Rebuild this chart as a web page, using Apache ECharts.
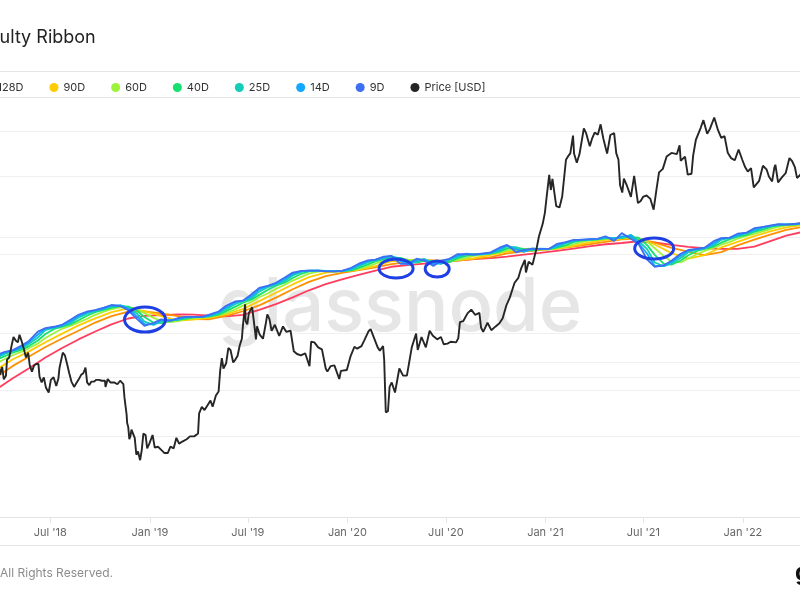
<!DOCTYPE html>
<html><head><meta charset="utf-8">
<script src="https://cdn.jsdelivr.net/npm/echarts@6/dist/echarts.min.js"></script>
<style>html,body{margin:0;padding:0;background:#fff;}#c{width:800px;height:600px;}</style>
</head><body><div id="c"></div>
<script>
// ---------- DATA ----------
const xTickDates = ['2018-07-01','2019-01-01','2019-07-01','2020-01-01','2020-07-01','2021-01-01','2021-07-01','2022-01-01'];
const priceGridLevels = [4000, 6000, 10000, 20000, 40000, 60000];
const difficultyGridLevels = [2.26, 2.89, 22.6];

const pricePoints = [
['2018-03-26',8150],['2018-03-30',6900],['2018-04-03',7400],['2018-04-06',6630],['2018-04-10',6850],['2018-04-12',7900],['2018-04-16',8050],['2018-04-20',8860],['2018-04-24',9650],['2018-04-28',9350],
['2018-05-02',9200],['2018-05-05',9850],['2018-05-09',9300],['2018-05-13',8700],['2018-05-17',8050],['2018-05-21',8400],['2018-05-24',7500],['2018-05-28',7100],['2018-06-01',7500],['2018-06-05',7600],
['2018-06-09',7600],['2018-06-11',6800],['2018-06-15',6450],['2018-06-19',6750],['2018-06-23',6150],['2018-06-28',5900],['2018-07-02',6600],['2018-07-07',6760],['2018-07-12',6250],['2018-07-16',6700],
['2018-07-18',7350],['2018-07-24',8400],['2018-07-28',8200],['2018-08-01',7600],['2018-08-05',7000],['2018-08-09',6500],['2018-08-14',6200],['2018-08-18',6400],['2018-08-22',6600],['2018-08-27',6900],
['2018-08-31',7000],['2018-09-04',7350],['2018-09-07',6450],['2018-09-11',6300],['2018-09-15',6500],['2018-09-20',6500],['2018-09-24',6600],['2018-09-29',6600],['2018-10-04',6550],['2018-10-10',6550],
['2018-10-11',6200],['2018-10-15',6650],['2018-10-20',6450],['2018-10-27',6450],['2018-11-02',6350],['2018-11-07',6550],['2018-11-13',6350],['2018-11-15',5650],['2018-11-19',4850],['2018-11-20',4500],
['2018-11-22',4350],['2018-11-24',3900],['2018-11-26',4000],['2018-11-28',4250],['2018-12-01',4200],['2018-12-04',3950],['2018-12-07',3400],['2018-12-10',3500],['2018-12-14',3240],['2018-12-17',3550],
['2018-12-20',4100],['2018-12-24',4050],['2018-12-27',3600],['2018-12-31',3750],['2019-01-06',4050],['2019-01-10',3620],['2019-01-16',3650],['2019-01-22',3550],['2019-01-28',3450],['2019-02-03',3450],
['2019-02-08',3650],['2019-02-14',3600],['2019-02-19',3950],['2019-02-24',3750],['2019-03-02',3820],['2019-03-10',3900],['2019-03-16',4000],['2019-03-24',4000],['2019-03-31',4100],['2019-04-02',4900],
['2019-04-07',5200],['2019-04-12',5050],['2019-04-17',5250],['2019-04-23',5500],['2019-04-27',5200],['2019-05-03',5750],['2019-05-08',5950],['2019-05-11',7200],['2019-05-14',8000],['2019-05-17',7300],
['2019-05-22',7650],['2019-05-26',8750],['2019-05-30',8600],['2019-06-04',7700],['2019-06-08',7900],['2019-06-12',8150],['2019-06-16',8950],['2019-06-20',9500],['2019-06-22',10700],['2019-06-26',12900],
['2019-06-27',11100],['2019-06-30',10800],['2019-07-03',11950],['2019-07-09',12550],['2019-07-14',10300],['2019-07-16',9450],['2019-07-18',10600],['2019-07-23',9850],['2019-07-29',9500],['2019-08-03',10800],
['2019-08-06',11800],['2019-08-10',11300],['2019-08-14',10200],['2019-08-20',10750],['2019-08-28',9750],['2019-09-04',10600],['2019-09-10',10100],['2019-09-18',10200],['2019-09-24',8500],['2019-09-30',8300],
['2019-10-07',8200],['2019-10-15',8350],['2019-10-23',7450],['2019-10-26',9250],['2019-11-01',9200],['2019-11-08',8800],['2019-11-15',8650],['2019-11-22',7300],['2019-11-25',7100],['2019-12-01',7450],
['2019-12-08',7500],['2019-12-17',6650],['2019-12-20',7150],['2019-12-31',7200],['2020-01-07',8150],['2020-01-14',8850],['2020-01-19',8700],['2020-01-27',8900],['2020-02-01',9350],['2020-02-09',10150],
['2020-02-13',10350],['2020-02-19',9600],['2020-02-26',8800],['2020-03-01',8550],['2020-03-07',8900],['2020-03-09',7900],['2020-03-12',4950],['2020-03-16',5000],['2020-03-19',6200],['2020-03-23',6450],
['2020-03-29',5900],['2020-04-06',7300],['2020-04-13',6850],['2020-04-20',6850],['2020-04-29',8800],['2020-05-07',9950],['2020-05-10',8600],['2020-05-17',9650],['2020-05-25',8800],['2020-06-01',10200],
['2020-06-07',9750],['2020-06-15',9450],['2020-06-22',9650],['2020-06-27',9050],['2020-07-04',9100],['2020-07-10',9250],['2020-07-20',9200],['2020-07-24',9550],['2020-07-27',11000],['2020-08-02',11100],
['2020-08-10',11900],['2020-08-17',12300],['2020-08-24',11750],['2020-09-01',11950],['2020-09-04',10500],['2020-09-08',10100],['2020-09-16',10950],['2020-09-23',10250],['2020-10-01',10600],['2020-10-08',10900],
['2020-10-14',11400],['2020-10-21',12800],['2020-10-27',13650],['2020-11-05',15600],['2020-11-12',16300],['2020-11-17',17700],['2020-11-24',19100],['2020-11-26',17100],['2020-12-01',18800],['2020-12-08',18300],
['2020-12-16',21300],['2020-12-20',23500],['2020-12-27',26300],['2020-12-31',29000],['2021-01-03',33000],['2021-01-08',40600],['2021-01-11',35500],['2021-01-14',39200],['2021-01-21',30800],['2021-01-27',30400],
['2021-02-01',33500],['2021-02-08',46400],['2021-02-12',47900],['2021-02-16',49100],['2021-02-21',57500],['2021-02-23',48900],['2021-02-28',45200],['2021-03-05',48800],['2021-03-13',61200],['2021-03-17',58900],
['2021-03-24',52300],['2021-03-28',55800],['2021-04-02',59000],['2021-04-08',58000],['2021-04-13',63500],['2021-04-18',56000],['2021-04-25',49000],['2021-05-01',57800],['2021-05-08',58800],['2021-05-12',49100],
['2021-05-16',46400],['2021-05-19',37000],['2021-05-23',34700],['2021-05-26',39300],['2021-06-01',36700],['2021-06-08',33400],['2021-06-14',40200],['2021-06-21',31600],['2021-06-26',32200],['2021-07-01',33500],
['2021-07-07',33800],['2021-07-14',32800],['2021-07-20',29800],['2021-07-25',35400],['2021-07-30',41500],['2021-08-06',42800],['2021-08-13',47800],['2021-08-22',49300],['2021-09-01',48800],['2021-09-06',52700],
['2021-09-08',46000],['2021-09-16',47700],['2021-09-21',40700],['2021-09-28',41000],['2021-10-01',48100],['2021-10-06',55300],['2021-10-15',61600],['2021-10-20',65900],['2021-10-27',58400],['2021-11-01',61000],
['2021-11-09',67500],['2021-11-16',60300],['2021-11-22',56300],['2021-11-28',57200],['2021-12-04',49400],['2021-12-10',47100],['2021-12-17',46200],['2021-12-24',50800],['2021-12-31',46300],['2022-01-05',43500],
['2022-01-10',41800],['2022-01-16',43100],['2022-01-21',36300],['2022-01-24',36600],['2022-01-31',38500],['2022-02-07',44000],['2022-02-10',43600],['2022-02-14',42500],['2022-02-18',40000],['2022-02-24',38300],
['2022-02-28',43200],['2022-03-02',44400],['2022-03-07',38000],['2022-03-14',39700],['2022-03-21',41200],['2022-03-28',47100],['2022-04-02',45800],['2022-04-07',43500],['2022-04-11',39500],['2022-04-16',40400],
['2022-04-20',41500]
];

// Ribbon (difficulty moving averages, in T). Fast lines sampled on the 8th/22nd, slow lines on the 22nd.
const d9 = [3.23,3.42,3.50,3.77,4.07,4.76,5.05,5.16,5.32,5.82,6.29,6.65,6.78,7.07,7.38,7.24,6.77,5.87,5.23,5.51,5.82,5.68,5.96,6.07,6.07,6.07,6.32,6.63,7.29,7.83,7.93,8.81,9.78,10.14,10.64,11.64,12.57,12.95,12.98,12.99,12.81,12.85,12.95,13.62,14.56,15.38,15.55,16.33,16.55,14.50,14.54,15.79,15.35,14.04,15.32,15.78,17.00,17.05,16.87,17.24,17.53,18.93,19.84,17.55,18.27,18.62,18.60,18.60,20.16,20.77,21.52,21.51,21.77,21.86,22.86,21.17,24.06,21.94,20.18,15.60,13.82,14.21,15.29,17.16,18.23,18.60,18.92,21.07,22.19,22.33,23.84,24.27,26.11,26.68,27.36,27.88,27.64,28.08,28.51];
const d14 = [3.15,3.38,3.49,3.68,3.99,4.54,5.01,5.13,5.27,5.66,6.17,6.56,6.77,6.98,7.30,7.32,6.92,6.15,5.38,5.37,5.75,5.75,5.84,6.07,6.07,6.07,6.23,6.55,7.08,7.70,7.93,8.50,9.53,10.09,10.48,11.33,12.33,12.89,12.99,12.99,12.88,12.82,12.92,13.39,14.29,15.17,15.55,16.05,16.55,15.23,14.32,15.41,15.62,14.44,14.76,15.78,16.57,17.16,16.91,17.10,17.47,18.45,19.65,18.42,17.76,18.64,18.60,18.60,19.61,20.72,21.27,21.59,21.66,21.86,22.50,21.88,22.83,23.05,20.49,17.15,14.02,14.02,14.96,16.59,18.02,18.53,18.83,20.33,22.00,22.34,23.30,24.27,25.46,26.67,27.12,27.76,27.76,27.89,28.41];
const d25 = [3.07,3.30,3.45,3.60,3.88,4.33,4.88,5.09,5.22,5.50,6.00,6.43,6.71,6.89,7.19,7.34,7.06,6.43,5.62,5.32,5.63,5.78,5.78,6.01,6.07,6.07,6.16,6.44,6.88,7.50,7.87,8.25,9.19,9.93,10.32,11.01,12.00,12.73,12.97,12.98,12.93,12.82,12.89,13.19,13.97,14.88,15.46,15.83,16.43,15.81,14.45,15.01,15.67,14.86,14.47,15.53,16.22,17.05,16.98,17.00,17.35,18.04,19.29,19.03,17.74,18.43,18.61,18.60,19.16,20.43,21.05,21.54,21.60,21.81,22.22,22.28,22.16,23.40,21.22,18.51,14.84,13.95,14.61,15.99,17.59,18.38,18.72,19.70,21.53,22.26,22.88,24.04,24.93,26.37,26.93,27.57,27.80,27.79,28.25];
const d40 = [2.98,3.18,3.37,3.53,3.74,4.12,4.58,4.98,5.16,5.38,5.75,6.21,6.56,6.80,7.04,7.24,7.19,6.74,6.05,5.52,5.48,5.68,5.80,5.88,6.03,6.07,6.13,6.30,6.67,7.18,7.66,8.09,8.72,9.52,10.13,10.69,11.50,12.33,12.83,12.98,12.95,12.89,12.86,13.06,13.59,14.41,15.13,15.67,16.10,16.01,15.24,14.80,15.25,15.22,14.80,14.97,15.90,16.58,17.00,17.02,17.17,17.74,18.63,19.01,18.53,18.07,18.50,18.61,18.95,19.74,20.73,21.25,21.58,21.70,22.06,22.12,22.43,22.54,22.32,19.76,16.83,14.52,14.31,15.33,16.74,17.94,18.55,19.29,20.56,21.83,22.62,23.40,24.54,25.58,26.64,27.23,27.64,27.83,28.02];
const d60 = [2.80,3.04,3.23,3.41,3.62,3.91,4.29,4.66,4.98,5.26,5.55,5.90,6.28,6.61,6.89,7.09,7.13,6.93,6.46,5.97,5.67,5.56,5.67,5.85,5.93,6.01,6.11,6.22,6.47,6.87,7.30,7.78,8.39,8.99,9.62,10.33,11.03,11.73,12.37,12.79,12.94,12.92,12.90,12.99,13.34,13.92,14.58,15.24,15.81,15.86,15.54,15.38,15.16,14.95,15.05,15.15,15.37,16.04,16.59,16.92,17.16,17.46,18.14,18.50,18.56,18.62,18.37,18.39,18.84,19.36,20.02,20.77,21.30,21.58,21.89,21.98,22.24,22.57,22.09,20.93,18.77,16.47,15.07,14.87,15.86,16.99,17.96,18.89,19.89,20.84,21.95,22.95,23.80,24.89,25.85,26.72,27.32,27.62,27.95];
const d90 = [2.53,3.01,3.43,4.00,4.59,5.28,5.92,6.56,6.97,6.68,6.15,5.71,5.80,6.00,6.34,6.91,7.86,9.02,10.35,11.67,12.55,12.91,13.20,14.01,15.15,15.48,15.53,14.97,15.41,15.92,16.82,17.77,18.13,18.58,18.60,19.55,20.55,21.58,22.03,22.11,19.95,17.33,15.80,16.79,19.01,20.85,22.91,24.83,26.49,27.59];
const d128 = [2.24,2.70,3.15,3.70,4.24,4.83,5.53,6.15,6.62,6.65,6.42,6.15,5.86,5.84,6.18,6.66,7.34,8.33,9.56,10.80,11.85,12.51,13.10,13.69,14.46,14.93,15.43,15.31,15.34,15.74,16.20,17.25,17.81,18.17,18.63,19.24,19.97,20.81,21.68,21.96,20.59,18.85,17.76,16.74,17.61,19.67,21.63,23.59,25.35,26.72];
const d200 = [1.83,2.20,2.60,3.11,3.62,4.19,4.77,5.37,5.91,6.17,6.25,6.32,6.29,6.20,6.12,6.27,6.81,7.49,8.37,9.40,10.40,11.26,12.13,12.99,13.84,14.21,14.58,14.84,15.31,15.71,15.96,16.35,16.90,17.37,18.00,18.65,19.35,20.04,20.46,21.06,20.62,19.83,19.22,18.77,18.57,18.56,19.28,21.21,23.09,24.60];

// Annotated spots (date, difficulty level)
const annotations = [['2018-12-23',5.81],['2020-03-31',13.45],['2020-06-15',13.34],['2021-07-21',18.7]];

// ---------- BUILD ----------
const toTs = s => { const p = s.split('-').map(Number); return Date.UTC(p[0], p[1]-1, p[2]); };
const pad = n => String(n).padStart(2,'0');
const fastDates = ['2018-03-22'];
const slowDates = ['2018-03-22'];
for (let y = 2018; y <= 2022; y++) {
  for (let m = 1; m <= 12; m++) {
    if (y === 2018 && m < 4) continue;
    if (y === 2022 && m > 4) break;
    fastDates.push(`${y}-${pad(m)}-08`, `${y}-${pad(m)}-22`);
    slowDates.push(`${y}-${pad(m)}-22`);
  }
}
const ribbon = [
  {name:'200D', dates:slowDates, values:d200, color:'#ff3d5f'},
  {name:'128D', dates:slowDates, values:d128, color:'#ff9100'},
  {name:'90D',  dates:slowDates, values:d90,  color:'#ffcc00'},
  {name:'60D',  dates:fastDates, values:d60,  color:'#9ff23b'},
  {name:'40D',  dates:fastDates, values:d40,  color:'#18e070'},
  {name:'25D',  dates:fastDates, values:d25,  color:'#15ccb6'},
  {name:'14D',  dates:fastDates, values:d14,  color:'#13a8ff'},
  {name:'9D',   dates:fastDates, values:d9,   color:'#3d6ff2'}
];
const FONT = 'Inter, "Noto Sans", sans-serif';
const MONTHS = ['Jan','Feb','Mar','Apr','May','Jun','Jul','Aug','Sep','Oct','Nov','Dec'];
const tickTs = xTickDates.map(toTs);

const series = [];
series.push({
  type:'line', name:'_grid', yAxisIndex:0, data:[], silent:true,
  markLine:{silent:true, symbol:'none', z:1, animation:false, label:{show:false},
    lineStyle:{color:'#efefef', type:'solid', width:1},
    data: priceGridLevels.map(v => ({yAxis:v}))}
});
ribbon.forEach((r, k) => {
  const s = {
    type:'line', name:r.name, yAxisIndex:1, z:2, symbol:'none', showSymbol:false,
    data: r.dates.map((d,i) => [toTs(d), r.values[i]]),
    lineStyle:{color:r.color, width:1.8}, itemStyle:{color:r.color},
    emphasis:{disabled:true}
  };
  if (k === 0) s.markLine = {silent:true, symbol:'none', z:1, animation:false, label:{show:false},
    lineStyle:{color:'#efefef', type:'solid', width:1},
    data: difficultyGridLevels.map(v => ({yAxis:v}))};
  series.push(s);
});
series.push({
  type:'line', name:'Price [USD]', yAxisIndex:0, z:3, symbol:'none', showSymbol:false,
  data: pricePoints.map(p => [toTs(p[0]), p[1]]),
  lineStyle:{color:'#262626', width:1.9}, itemStyle:{color:'#262626'},
  emphasis:{disabled:true}
});

const chart = echarts.init(document.getElementById('c'), null, {renderer:'canvas'});
const option = {
  animation:false,
  backgroundColor:'#ffffff',
  textStyle:{fontFamily:FONT},
  grid:{left:0, right:0, top:100, bottom:83, containLabel:false, outerBoundsMode:'none'},
  legend:{
    data: ribbon.map(r => r.name).concat(['Price [USD]']),
    left:-85, top:82, padding:0, icon:'circle', itemWidth:9, itemHeight:9, itemGap:26,
    textStyle:{fontSize:11, color:'#333', fontFamily:FONT}, selectedMode:false
  },
  xAxis:{
    type:'value', min:toTs('2018-03-30'), max:toTs('2022-04-16') + 12*3600e3,
    axisLine:{show:true, lineStyle:{color:'#e4e4e4', width:1}},
    axisTick:{show:true, customValues:tickTs, length:6, lineStyle:{color:'#e4e4e4'}},
    axisLabel:{customValues:tickTs, color:'#666', fontSize:11, margin:10, fontFamily:FONT,
      formatter: v => { const d = new Date(v); return MONTHS[d.getUTCMonth()] + " '" + String(d.getUTCFullYear()).slice(2); }},
    splitLine:{show:false}
  },
  yAxis:[
    {type:'log', logBase:10, min:1958, max:78800, show:false, splitLine:{show:false}},
    {type:'log', logBase:10, min:0.226, max:214.8, show:false, splitLine:{show:false}}
  ],
  series: series
};
chart.setOption(option);

const radii = [[20.5,12.5],[17,9.5],[12,8],[19.5,10.5]];
const graphics = [
  {type:'text', z:0, x:400, y:309, silent:true,
    style:{text:'glassnode', fontSize:74, fontWeight:500, fontFamily:FONT, fill:'#e6e6e6', align:'center', verticalAlign:'middle'}},
  {type:'text', z:10, x:-45, y:38,
    style:{text:'Difficulty Ribbon', fontSize:18, fontFamily:FONT, fill:'#222', align:'left', verticalAlign:'middle'}},
  {type:'line', z:10, shape:{x1:0, y1:71.5, x2:800, y2:71.5}, style:{stroke:'#e6e6e6', lineWidth:1}},
  {type:'line', z:10, shape:{x1:0, y1:97.5, x2:800, y2:97.5}, style:{stroke:'#e6e6e6', lineWidth:1}},
  {type:'line', z:10, shape:{x1:0, y1:545.5, x2:800, y2:545.5}, style:{stroke:'#e6e6e6', lineWidth:1}},
  {type:'text', z:10, x:113, y:573,
    style:{text:'\u00a9 2022 Glassnode. All Rights Reserved.', fontSize:12, fontFamily:FONT, fill:'#8c8c8c', align:'right', verticalAlign:'middle'}},
  {type:'text', z:10, x:795, y:573,
    style:{text:'glassnode', fontSize:24, fontWeight:700, fontFamily:FONT, fill:'#111', align:'left', verticalAlign:'middle'}}
];
annotations.forEach((a, i) => {
  const p = chart.convertToPixel({xAxisIndex:0, yAxisIndex:1}, [toTs(a[0]), a[1]]);
  graphics.push({type:'ellipse', z:100, silent:true,
    shape:{cx:p[0], cy:p[1], rx:radii[i][0], ry:radii[i][1]},
    style:{fill:'none', stroke:'#1e3fe4', lineWidth:3}});
});
chart.setOption({graphic:graphics});
</script></body></html>
